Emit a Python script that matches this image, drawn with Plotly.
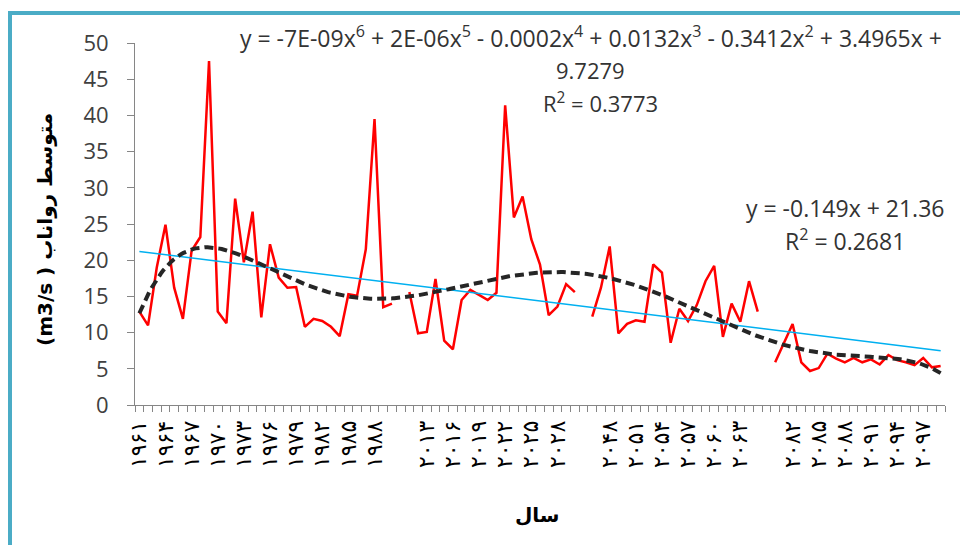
import numpy as np
import plotly.graph_objects as go

# ---- data ----
base_years = list(range(1961, 1991))
f2020_years = list(range(2011, 2031))
f2050_years = list(range(2046, 2066))
f2080_years = list(range(2080, 2100))

base_vals = [12.9, 11.0, 19.0, 24.9, 16.2, 11.9, 21.3, 23.2, 47.5, 12.9,
             11.3, 28.5, 19.7, 26.7, 12.1, 22.2, 17.6, 16.2, 16.3, 10.8,
             11.9, 11.6, 10.8, 9.5, 15.3, 15.1, 21.5, 39.5, 13.5, 14.0]
f2020_vals = [15.6, 9.9, 10.1, 17.4, 8.9, 7.7, 14.5, 15.9, 15.2, 14.5,
              15.5, 41.4, 25.9, 28.8, 22.9, 19.4, 12.4, 13.6, 16.7, 15.6]
f2050_vals = [12.2, 16.2, 21.9, 9.9, 11.2, 11.7, 11.5, 19.4, 18.3, 8.6,
              13.3, 11.6, 13.8, 17.1, 19.2, 9.4, 14.0, 11.5, 17.1, 12.9]
f2080_vals = [5.9, 8.5, 11.2, 5.9, 4.7, 5.1, 7.1, 6.4, 5.9, 6.5,
              5.9, 6.3, 5.6, 6.9, 6.2, 5.9, 5.5, 6.5, 5.2, 5.4]

years = base_years + [None] + f2020_years + [None] + f2050_years + [None] + f2080_years
values = base_vals + [None] + f2020_vals + [None] + f2050_vals + [None] + f2080_vals
idx = list(range(len(years)))

fa = str.maketrans("0123456789", "۰۱۲۳۴۵۶۷۸۹")
def fa_num(y):
    return str(y).translate(fa) if y is not None else ""

tickvals = list(range(0, len(years), 3))
ticktext = [fa_num(years[i]) for i in tickvals]

# ---- trendlines (fitted to the data like Excel, x = 1..N) ----
xv = np.array([i + 1 for i, v in zip(idx, values) if v is not None], float)
yv = np.array([v for v in values if v is not None], float)
lin = np.polyfit(xv, yv, 1)
poly = np.polyfit(xv, yv, 6)
xs = np.linspace(1, len(years), 400)
lin_x = np.array([1, len(years)], float)

fig = go.Figure()
fig.add_trace(go.Scatter(x=idx, y=values, mode="lines", connectgaps=False,
                         line=dict(color="#ff0000", width=2.5), hoverinfo="skip"))
fig.add_trace(go.Scatter(x=lin_x - 1, y=np.polyval(lin, lin_x), mode="lines",
                         line=dict(color="#00b0f0", width=1.5), hoverinfo="skip"))
fig.add_trace(go.Scatter(x=xs - 1, y=np.polyval(poly, xs), mode="lines",
                         line=dict(color="#262626", width=4, dash="9px,5px"), hoverinfo="skip"))

L, R, T, B = 135, 15, 43, 140
W, H = 960, 545
pw, ph = W - L - R, H - T - B
def px(x): return (x - L) / pw
def py(y): return (H - B - y) / ph

def afont(s):
    return dict(family="Open Sans, sans-serif", size=s, color="#333333")

ann = [
    dict(x=px(591), y=py(37), font=afont(23), text="y = -7E-09x<sup>6</sup> + 2E-06x<sup>5</sup> - 0.0002x<sup>4</sup> + 0.0132x<sup>3</sup> - 0.3412x<sup>2</sup> + 3.4965x +"),
    dict(x=px(590), y=py(70), font=afont(22), text="9.7279"),
    dict(x=px(600), y=py(102), font=afont(22), text="R<sup>2</sup> = 0.3773"),
    dict(x=px(845), y=py(208), font=afont(23), text="y = -0.149x + 21.36"),
    dict(x=px(845), y=py(240), font=afont(23), text="R<sup>2</sup> = 0.2681"),
]
annotations = []
for a in ann:
    a.update(xref="paper", yref="paper", showarrow=False,
             xanchor="center", yanchor="middle")
    annotations.append(a)

annotations.append(dict(x=px(45), y=py(230), xref="paper", yref="paper", showarrow=False,
                        text="<b>(m3/s ) متوسط رواناب</b>", textangle=-90,
                        font=dict(family="DejaVu Sans, sans-serif", size=20, color="#000000"),
                        xanchor="center", yanchor="middle"))
annotations.append(dict(x=px(537), y=py(515), xref="paper", yref="paper", showarrow=False,
                        text="<b>سال</b>",
                        font=dict(family="DejaVu Sans, sans-serif", size=20, color="#000000"),
                        xanchor="center", yanchor="middle"))

border = dict(color="#4bacc6", width=4)
shapes = [
    dict(type="line", xref="paper", yref="paper", x0=px(8), x1=px(975), y0=py(13), y1=py(13), line=border, layer="above"),
    dict(type="line", xref="paper", yref="paper", x0=px(10), x1=px(10), y0=py(11), y1=py(560), line=border, layer="above"),
]

fig.update_layout(
    width=W, height=H, autosize=False,
    margin=dict(l=L, r=R, t=T, b=B, pad=0),
    paper_bgcolor="white", plot_bgcolor="white",
    showlegend=False,
    annotations=annotations,
    shapes=shapes,
    xaxis=dict(range=[-0.5, len(years) - 0.5], tickmode="array", tickvals=tickvals,
               ticktext=ticktext, tickangle=-90, ticks="",
               tickfont=dict(family="DejaVu Sans, sans-serif", size=22, color="#000000"),
               showline=True, linecolor="#868686", linewidth=1, showgrid=False,
               zeroline=False, ticklabelstandoff=6,
               minor=dict(tickmode="array", tickvals=[i - 0.5 for i in range(len(years) + 1)],
                          ticks="outside", ticklen=6, tickcolor="#868686", tickwidth=1,
                          showgrid=False)),
    yaxis=dict(range=[0, 50], tickmode="array", tickvals=list(range(0, 51, 5)),
               ticks="outside", ticklen=7, tickcolor="#868686",
               showline=True, linecolor="#868686", linewidth=1, showgrid=False,
               zeroline=False, ticklabelstandoff=14,
               tickfont=dict(family="Open Sans, sans-serif", size=22, color="#404040")),
)

fig.write_html("out.html", config={"displayModeBar": False},
               post_script="document.body.style.margin='0px';")
